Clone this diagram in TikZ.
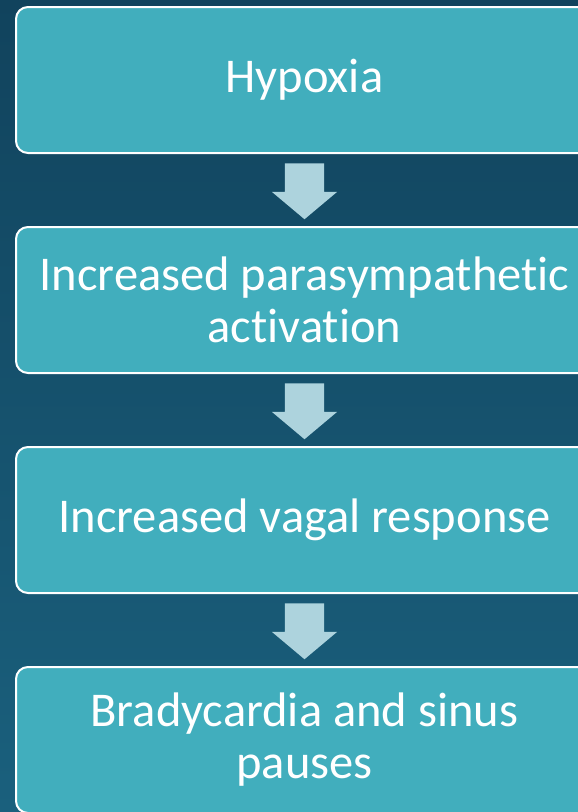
\documentclass[tikz,border=0pt]{standalone}
\usepackage{fontspec}
\setmainfont{Carlito}[Ligatures=NoCommon]
\usetikzlibrary{shapes.arrows}
\definecolor{bgtop}{HTML}{11435D}
\definecolor{bgbot}{HTML}{1A607D}
\definecolor{boxfill}{HTML}{41AEBD}
\definecolor{arrowfill}{HTML}{ADD3DD}
\tikzset{
  stepbox/.style={draw=white, line width=2pt, fill=boxfill, rounded corners=12pt,
    minimum width=577pt, minimum height=146pt, inner sep=0pt, align=center,
    text=white, font=\fontsize{48.5}{52}\selectfont},
  downarrow/.style={single arrow, shape border rotate=270, fill=arrowfill, draw=none,
    inner sep=19.5pt, minimum height=55pt, single arrow tip angle=100,
    single arrow head extend=13pt, single arrow head indent=0pt}
}
\begin{document}
\begin{tikzpicture}[x=1pt,y=1pt]
      \useasboundingbox (0,0) rectangle (578,-812);
      \shade[top color=bgtop, bottom color=bgbot] (0,0) rectangle (578,-812);
      \node[stepbox] (hypoxia) at (304.5,-80) {Hypoxia};
      \node[stepbox] (para) at (304.5,-300) {Increased parasympathetic\\activation};
      \node[stepbox] (vagal) at (304.5,-520) {Increased vagal response};
      \node[stepbox] (brady) at (304.5,-740) {Bradycardia and sinus\\pauses};
      \node[downarrow] (a1) at (304.5,-183) {};
      \node[downarrow] (a2) at (304.5,-403) {};
      \node[downarrow] (a3) at (304.5,-623) {};
    \end{tikzpicture}
\end{document}
